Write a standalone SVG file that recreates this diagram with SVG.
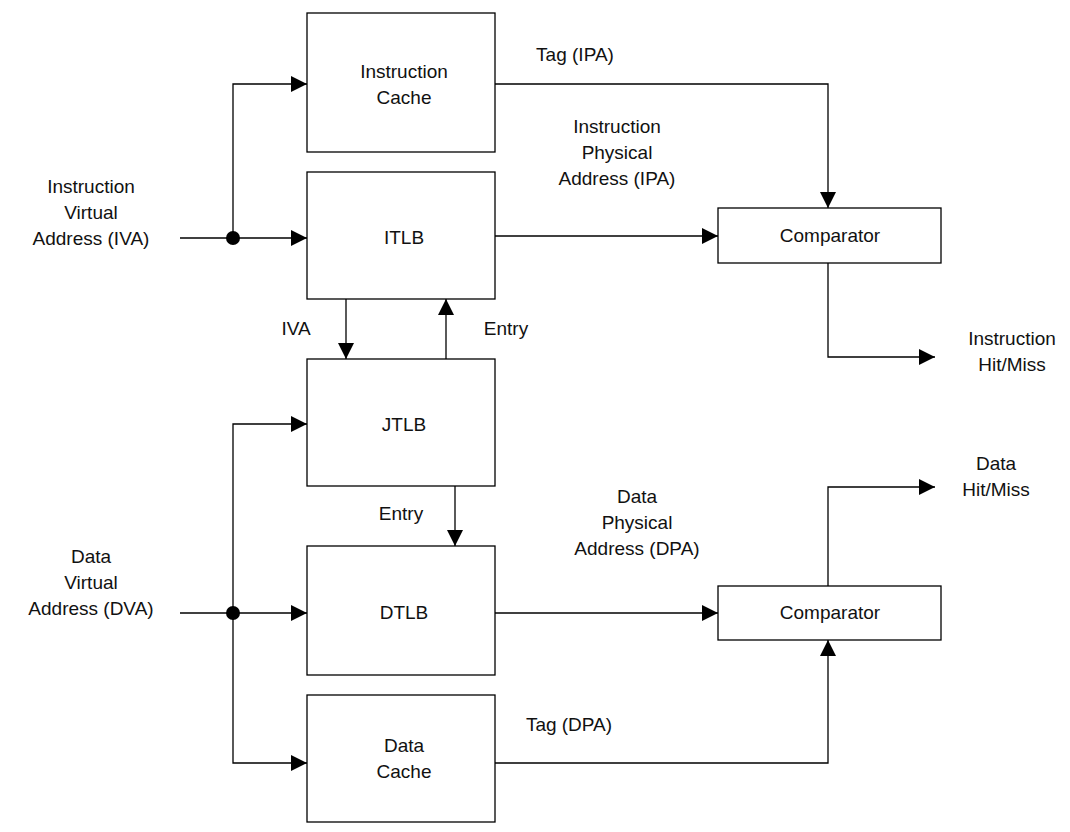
<svg xmlns="http://www.w3.org/2000/svg" width="1070" height="832" viewBox="0 0 1070 832">
<style>
rect{fill:#fff;stroke:#000;stroke-width:1.3}
text{font-family:"Liberation Sans",Arial,sans-serif;font-size:19px;fill:#111;text-anchor:middle}
.c path{fill:none;stroke:#000;stroke-width:1.3;marker-end:url(#a)}
</style>
<defs><marker id="a" viewBox="0 0 10 10" refX="10" refY="5" markerWidth="26" markerHeight="16" markerUnits="userSpaceOnUse" orient="auto"><path d="M0,0L10,5L0,10z"/></marker></defs>
<rect x="0" y="0" width="1070" height="832" style="stroke:none"/>
<g id="icache"><rect x="307" y="13" width="188" height="139"/><text x="404" y="78">Instruction</text><text x="404" y="104">Cache</text></g>
<g id="itlb"><rect x="307" y="172" width="188" height="127"/><text x="404" y="244">ITLB</text></g>
<g id="jtlb"><rect x="307" y="359" width="188" height="127"/><text x="404" y="431">JTLB</text></g>
<g id="dtlb"><rect x="307" y="546" width="188" height="129"/><text x="404" y="619">DTLB</text></g>
<g id="dcache"><rect x="307" y="695" width="188" height="127"/><text x="404" y="752">Data</text><text x="404" y="778">Cache</text></g>
<g id="comp1"><rect x="718" y="208" width="223" height="55"/><text x="830" y="242">Comparator</text></g>
<g id="comp2"><rect x="718" y="586" width="223" height="54"/><text x="830" y="619">Comparator</text></g>
<g class="c">
<path d="M180,238H307"/><path d="M233,238V84H307"/>
<path d="M180,613H307"/><path d="M233,613V424H307"/><path d="M233,613V763H307"/>
<path d="M495,84H828V208"/><path d="M495,236H718"/>
<path d="M828,263V357H935"/>
<path d="M346,299V359"/><path d="M446,359V299"/><path d="M455,486V546"/>
<path d="M495,613H718"/><path d="M828,586V487H935"/>
<path d="M495,763H828V640"/>
<circle cx="233" cy="238" r="7"/><circle cx="233" cy="613" r="7"/>
</g>
<text x="91" y="193">Instruction</text><text x="91" y="219">Virtual</text><text x="91" y="245">Address (IVA)</text>
<text x="91" y="563">Data</text><text x="91" y="589">Virtual</text><text x="91" y="615">Address (DVA)</text>
<text x="575" y="61">Tag (IPA)</text>
<text x="617" y="133">Instruction</text><text x="617" y="159">Physical</text><text x="617" y="185">Address (IPA)</text>
<text x="296" y="335">IVA</text><text x="506" y="335">Entry</text><text x="401" y="520">Entry</text>
<text x="1012" y="345">Instruction</text><text x="1012" y="371">Hit/Miss</text>
<text x="996" y="470">Data</text><text x="996" y="496">Hit/Miss</text>
<text x="637" y="503">Data</text><text x="637" y="529">Physical</text><text x="637" y="555">Address (DPA)</text>
<text x="569" y="731">Tag (DPA)</text>
</svg>
